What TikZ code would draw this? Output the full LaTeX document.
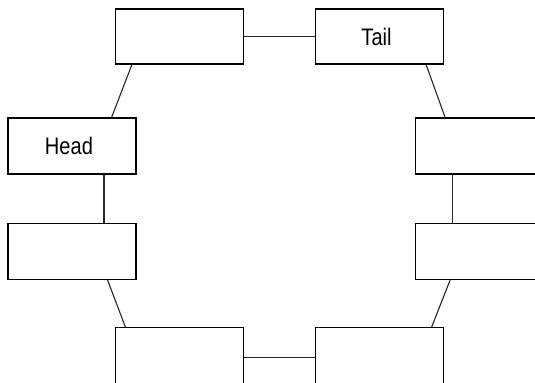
\documentclass[tikz,border=0pt]{standalone}
\usepackage{fontspec}
\newfontfamily\lblfont{Liberation Sans}[FakeStretch=0.84]
\newcommand{\celltext}[1]{#1\kern6bp}
\begin{document}
\begin{tikzpicture}[x=1bp,y=-1bp,
  cell/.style={draw=black, line width=1.2bp, fill=white, minimum width=128bp, minimum height=55bp, inner sep=0pt, font=\lblfont\fontsize{24}{28}\selectfont},
  tallcell/.style={cell, minimum height=60bp},
  link/.style={draw=black!85, line width=1.1bp}]
\useasboundingbox (0,0) rectangle (535,382);
\node[cell] (tl) at (179.5,36.5) {};
\node[cell] (tr) at (379.5,36.5) {\celltext{Tail}};
\node[cell, minimum height=56bp] (head) at (72,146) {\celltext{Head}};
\node[cell, minimum height=56bp] (ll) at (72,251.5) {};
\node[cell, minimum height=56bp] (ru) at (479.7,146) {};
\node[cell, minimum height=56bp] (rl) at (479.7,251.5) {};
\node[tallcell] (bl) at (179.5,357.7) {};
\node[tallcell] (br) at (379.5,357.7) {};
\draw[link] (tl.east) -- (tr.west);
\draw[link] (bl.east) -- (br.west);
\draw[link] ([xshift=32bp]head.south) -- ([xshift=32bp]ll.north);
\draw[link] ([xshift=-27bp]ru.south) -- ([xshift=-27bp]rl.north);
\draw[link] ([xshift=17bp]tl.south west) -- ([xshift=-25bp]head.north east);
\draw[link] ([xshift=-18bp]tr.south east) -- ([xshift=30bp]ru.north west);
\draw[link] ([xshift=-29bp]ll.south east) -- ([xshift=10.5bp]bl.north west);
\draw[link] ([xshift=35bp]rl.south west) -- ([xshift=-12.5bp]br.north east);
\end{tikzpicture}
\end{document}
